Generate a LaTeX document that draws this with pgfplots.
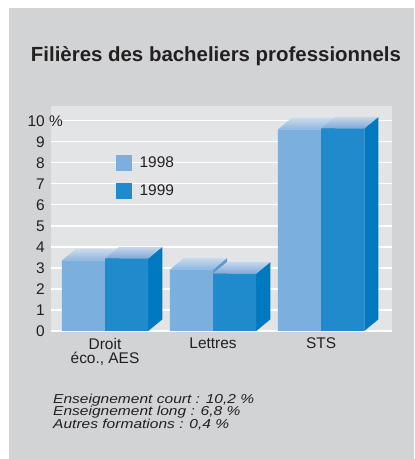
\documentclass[border=0pt]{standalone}
\usepackage{fontspec}
\setmainfont{Liberation Sans}
\newfontfamily\footfont[FakeStretch=1.2]{Liberation Sans}
\usepackage{pgfplots}
\pgfplotsset{compat=1.18}

\definecolor{panel}{HTML}{D2D3D5}
\definecolor{plotbg}{HTML}{E3E4E6}
\definecolor{txt}{HTML}{231F20}
\definecolor{c98}{HTML}{7BAFDE}
\definecolor{c99}{HTML}{1F8ACC}
\definecolor{side98}{HTML}{5F98CE}
\definecolor{side99}{HTML}{0079C0}
\definecolor{top98a}{HTML}{8DB6E1}
\definecolor{top98b}{HTML}{CBDAEB}
\definecolor{top99a}{HTML}{7FA9D7}
\definecolor{top99b}{HTML}{C6D6EA}

\pgfplotsset{
  leg98/.style={legend image code/.code={\fill[c98] (0bp,-7.5bp) rectangle (15bp,7.5bp);}},
  leg99/.style={legend image code/.code={\fill[c99] (0bp,-7.5bp) rectangle (15bp,7.5bp);}},
  face/.style={draw=none, forget plot},
}

\begin{document}
\begin{tikzpicture}[x=1bp, y=1bp]
\fill[white, use as bounding box] (0,0) rectangle (414,459);
\fill[panel] (9,0) rectangle (414,451);

\node[anchor=base, text=txt, font=\bfseries\fontsize{20.5}{24}\selectfont]
  at (216,397) {Filières des bacheliers professionnels};

\begin{axis}[
    at={(51bp,128bp)}, anchor=south west,
    scale only axis,
    width=341bp, height=225bp,
    xmin=-0.5, xmax=2.657,
    ymin=0, ymax=10.7,
    axis background/.style={fill=plotbg},
    axis line style={draw=none},
    tick style={draw=none},
    ymajorgrids,
    grid style={white, line width=1.3bp},
    ytick={0,1,2,3,4,5,6,7,8,9,10},
    yticklabels={0,1,2,3,4,5,6,7,8,9,{10\rlap{ \%}}},
    xtick={0,1,2},
    xticklabels={{Droit\\éco., AES},Lettres,STS},
    tick label style={text=txt, font=\fontsize{15.5}{14}\selectfont},
    yticklabel style={anchor=east, inner sep=0pt, xshift=-6bp},
    xticklabel style={anchor=north, align=center, inner sep=0pt, yshift=-7bp},
    legend style={at={(axis cs:0.102,8.36)}, anchor=north west,
      draw=none, fill=none, inner sep=0pt, row sep=12bp,
      font=\fontsize{15.5}{14}\selectfont, text=txt,
      nodes={inner sep=0pt, text=txt},
      /tikz/every odd column/.append style={column sep=8bp}},
    legend cell align=left,
]

%% 1998 : side and top faces
\addplot[face, fill=side98] coordinates {(0,0) (0.13,0.55) (0.13,3.9) (0,3.35)} -- cycle;
\addplot[face, bottom color=top98a, top color=top98b] coordinates {(-0.4,3.35) (-0.27,3.9) (0.13,3.9) (0,3.35)} -- cycle;
\addplot[face, fill=side98] coordinates {(1,0) (1.13,0.55) (1.13,3.47) (1,2.92)} -- cycle;
\addplot[face, bottom color=top98a, top color=top98b] coordinates {(0.6,2.92) (0.73,3.47) (1.13,3.47) (1,2.92)} -- cycle;
\addplot[face, fill=side98] coordinates {(2,0) (2.13,0.55) (2.13,10.13) (2,9.58)} -- cycle;
\addplot[face, bottom color=top98a, top color=top98b] coordinates {(1.6,9.58) (1.73,10.13) (2.13,10.13) (2,9.58)} -- cycle;

%% 1998 : front faces
\addplot[ybar, bar width=0.4, bar shift=-0.2, fill=c98, draw=none, forget plot]
  coordinates {(0,3.35) (1,2.92) (2,9.58)};

%% 1999 : side and top faces
\addplot[face, fill=side99] coordinates {(0.4,0) (0.53,0.55) (0.53,4.0) (0.4,3.45)} -- cycle;
\addplot[face, bottom color=top99a, top color=top99b] coordinates {(0,3.45) (0.13,4.0) (0.53,4.0) (0.4,3.45)} -- cycle;
\addplot[face, fill=side99] coordinates {(1.4,0) (1.53,0.55) (1.53,3.28) (1.4,2.73)} -- cycle;
\addplot[face, bottom color=top99a, top color=top99b] coordinates {(1,2.73) (1.13,3.28) (1.53,3.28) (1.4,2.73)} -- cycle;
\addplot[face, fill=side99] coordinates {(2.4,0) (2.53,0.55) (2.53,10.18) (2.4,9.63)} -- cycle;
\addplot[face, bottom color=top99a, top color=top99b] coordinates {(2,9.63) (2.13,10.18) (2.53,10.18) (2.4,9.63)} -- cycle;

%% 1999 : front faces
\addplot[ybar, bar width=0.4, bar shift=0.2, fill=c99, draw=none, forget plot]
  coordinates {(0,3.45) (1,2.73) (2,9.63)};

\addlegendimage{leg98}
\addlegendentry{1998}
\addlegendimage{leg99}
\addlegendentry{1999}
\end{axis}

\node[anchor=north west, align=left, inner sep=0pt, text=txt,
      font=\footfont\itshape\fontsize{13}{12.3}\selectfont]
  at (53,65) {Enseignement court : 10,2 \%\\Enseignement long : 6,8 \%\\Autres formations : 0,4 \%};
\end{tikzpicture}
\end{document}
